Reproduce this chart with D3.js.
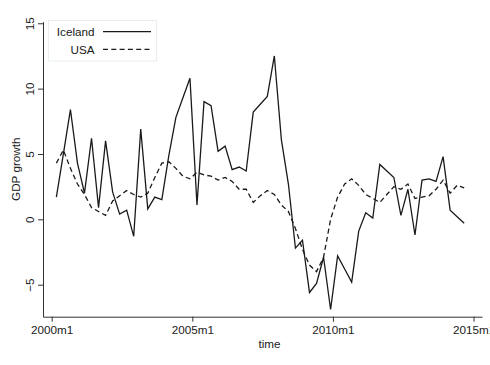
<!DOCTYPE html>
<html>
<head>
<meta charset="utf-8">
<script src="https://cdn.jsdelivr.net/npm/d3@7"></script>
<style>
  body { margin: 0; background: #fff; }
  svg { display: block; font-family: "Liberation Sans", Arial, sans-serif; }
</style>
</head>
<body>
<svg id="chart"></svg>
<script>
// quarterly GDP growth, 2000q1 .. 2014q3 (plotted at the last month of each quarter)
var startMonth = 2; // 2000m3, months counted from 2000m1
var iceland = [1.7, 5.0, 8.4, 4.3, 2.0, 6.2, 0.9, 6.0, 2.1, 0.4, 0.7, -1.3, 6.9, 0.8, 1.7, 1.5,
               4.9, 7.8, 9.3, 10.8, 1.1, 9.0, 8.7, 5.2, 5.6, 3.8, 4.0, 3.7, 8.2, 8.8, 9.4, 12.5,
               6.1, 2.7, -2.2, -1.6, -5.6, -4.9, -2.9, -6.9, -2.8, -3.8, -4.8, -0.9, 0.5, 0.1,
               4.2, 3.7, 3.2, 0.3, 2.3, -1.2, 3.0, 3.1, 2.9, 4.8, 0.7, 0.2, -0.3];
var usa = [4.3, 5.3, 3.9, 2.7, 1.9, 0.9, 0.6, 0.3, 1.4, 1.8, 2.2, 1.9, 1.7, 2.0, 3.2, 4.3,
           4.4, 3.9, 3.3, 3.1, 3.6, 3.4, 3.3, 3.0, 3.2, 2.9, 2.3, 2.3, 1.3, 1.8, 2.2, 1.9,
           1.1, 0.6, -0.7, -2.3, -3.5, -4.0, -2.9, 0.0, 1.7, 2.7, 3.1, 2.6, 1.9, 1.6,
           1.3, 1.9, 2.5, 2.3, 2.7, 1.6, 1.7, 1.8, 2.3, 3.0, 2.0, 2.6, 2.4];
var xTicks = [0, 60, 120, 180];
var xTickLabels = ["2000m1", "2005m1", "2010m1", "2015m1"];
var yTicks = [-5, 0, 5, 10, 15];
var seriesNames = ["Iceland", "USA"];

var w = 490, h = 365;
var fontSize = "11.7px";
var ink = "#1a1a1a";

var svg = d3.select("#chart").attr("width", w).attr("height", h);

var x = d3.scaleLinear().domain([-3.7, 183.6]).range([43, 482]);
var y = d3.scaleLinear().domain([-7.45, 15.12]).range([316.7, 21.7]);

// axes
var xAxis = svg.append("g")
    .attr("transform", "translate(0," + y.range()[0] + ")")
    .call(d3.axisBottom(x).tickValues(xTicks)
        .tickFormat(function (d, i) { return xTickLabels[i]; })
        .tickSize(5).tickPadding(4).tickSizeOuter(0));
var yAxis = svg.append("g")
    .attr("transform", "translate(" + x.range()[0] + ",0)")
    .call(d3.axisLeft(y).tickValues(yTicks).tickSize(5).tickSizeOuter(0));

[xAxis, yAxis].forEach(function (g) {
    g.select(".domain").attr("stroke", "#333").attr("stroke-width", 1);
    g.selectAll(".tick line").attr("stroke", "#333");
    g.selectAll("text").attr("fill", ink).style("font-size", fontSize)
        .attr("font-family", "Liberation Sans, Arial, sans-serif");
});

// rotated y tick labels, stata style
yAxis.selectAll(".tick text")
    .attr("x", null).attr("dy", null)
    .attr("text-anchor", "middle")
    .attr("transform", "translate(-9.5,0) rotate(-90)");

svg.append("text")
    .attr("x", (x.range()[0] + x.range()[1]) / 2 + 7)
    .attr("y", 348)
    .attr("text-anchor", "middle")
    .style("font-size", fontSize)
    .attr("fill", ink)
    .text("time");

svg.append("text")
    .attr("transform", "translate(20," + (y.range()[0] + y.range()[1]) / 2 + ") rotate(-90)")
    .attr("text-anchor", "middle")
    .style("font-size", fontSize)
    .attr("fill", ink)
    .text("GDP growth");

// lines
var line = d3.line()
    .x(function (d, i) { return x(startMonth + 3 * i); })
    .y(function (d) { return y(d); });

svg.append("path")
    .datum(iceland)
    .attr("d", line)
    .attr("fill", "none")
    .attr("stroke", ink)
    .attr("stroke-width", 1.3)
    .attr("stroke-linejoin", "miter");

svg.append("path")
    .datum(usa)
    .attr("d", line)
    .attr("fill", "none")
    .attr("stroke", ink)
    .attr("stroke-width", 1.3)
    .attr("stroke-dasharray", "5,3.3");

// legend
var legend = svg.append("g");
legend.append("rect")
    .attr("x", 48.5).attr("y", 20.5)
    .attr("width", 108).attr("height", 40.5)
    .attr("fill", "#fff")
    .attr("stroke", "#e8eeee");

var dashes = [null, "5,3.3"];
seriesNames.forEach(function (name, i) {
    var ly = 31.7 + i * 17.6;
    legend.append("text")
        .attr("x", 94.5).attr("y", ly + 4.5)
        .attr("text-anchor", "end")
        .style("font-size", fontSize)
        .attr("fill", ink)
        .text(name);
    legend.append("line")
        .attr("x1", 103).attr("x2", 151)
        .attr("y1", ly).attr("y2", ly)
        .attr("stroke", ink)
        .attr("stroke-width", 1.3)
        .attr("stroke-dasharray", dashes[i]);
});
</script>
</body>
</html>
